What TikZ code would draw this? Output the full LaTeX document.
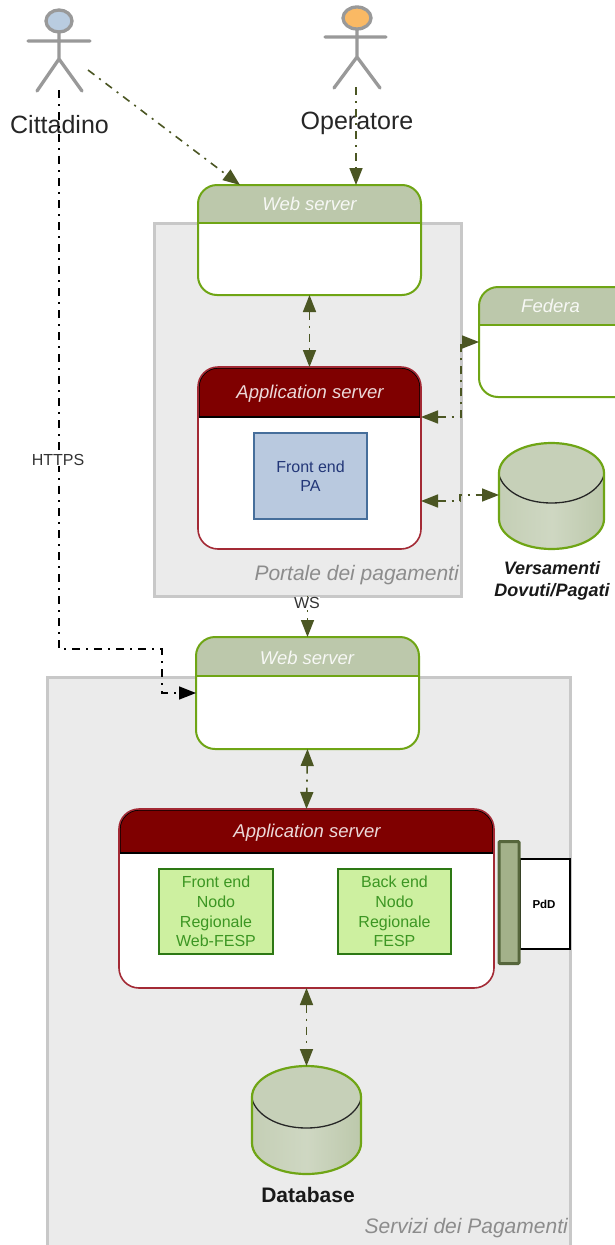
\documentclass[tikz,border=0pt]{standalone}
\usepackage{fontspec}
\setmainfont{Liberation Sans}
\usetikzlibrary{arrows.meta,calc}
\definecolor{panelgray}{HTML}{EBEBEB}
\definecolor{panelline}{HTML}{C8C8C8}
\definecolor{wsgreen}{HTML}{6FA515}
\definecolor{wshead}{HTML}{BCC8AB}
\definecolor{appred}{HTML}{7F0000}
\definecolor{appline}{HTML}{A32A35}
\definecolor{olivearrow}{HTML}{4B5623}
\definecolor{actorgray}{HTML}{999999}
\newcommand{\fsz}[1]{\fontsize{#1}{#1}\selectfont}
% cylinder: left x, right x, top-ellipse centre y, bottom-ellipse centre y, vertical radius
\newcommand{\dbcyl}[5]{%
  \pgfmathsetmacro{\cxm}{(#1+#2)/2}%
  \pgfmathsetmacro{\kx}{0.5523*(#2-#1)/2}%
  \pgfmathsetmacro{\ky}{0.5523*#5}%
  \pgfmathsetmacro{\ybot}{#4+#5}%
  \pgfmathsetmacro{\ytop}{#3-#5}%
  \pgfmathsetmacro{\yfront}{#3+#5}%
  \path[left color=wshead!88!white,right color=wshead,middle color=wshead!72!white]
    (#1,#3) -- (#1,#4) .. controls (#1,#4+\ky) and (\cxm-\kx,\ybot) .. (\cxm,\ybot)
    .. controls (\cxm+\kx,\ybot) and (#2,#4+\ky) .. (#2,#4) -- (#2,#3) -- cycle;
  \path[fill=wshead!85!white] (#1,#3) .. controls (#1,#3-\ky) and (\cxm-\kx,\ytop) .. (\cxm,\ytop)
    .. controls (\cxm+\kx,\ytop) and (#2,#3-\ky) .. (#2,#3)
    .. controls (#2,#3+\ky) and (\cxm+\kx,\yfront) .. (\cxm,\yfront)
    .. controls (\cxm-\kx,\yfront) and (#1,#3+\ky) .. (#1,#3) -- cycle;
  \draw[black!85,line width=1.3pt] (#1,#3+2) .. controls (#1+4,#3+\ky) and (\cxm-\kx,\yfront) .. (\cxm,\yfront)
    .. controls (\cxm+\kx,\yfront) and (#2-4,#3+\ky) .. (#2,#3+2);
  \draw[wsgreen,line width=2.2pt,line join=round] (#1,#3) -- (#1,#4) .. controls (#1,#4+\ky) and (\cxm-\kx,\ybot) .. (\cxm,\ybot)
    .. controls (\cxm+\kx,\ybot) and (#2,#4+\ky) .. (#2,#4) -- (#2,#3)
    .. controls (#2,#3-\ky) and (\cxm+\kx,\ytop) .. (\cxm,\ytop)
    .. controls (\cxm-\kx,\ytop) and (#1,#3-\ky) .. (#1,#3) -- cycle;
}
\tikzset{
  panel/.style={draw=panelline,fill=panelgray,line width=3pt,inner sep=0pt,outer sep=0pt},
  wsbox/.style={draw=wsgreen,fill=white,line width=2pt,rounded corners=19pt,inner sep=0pt,outer sep=0pt,
    path picture={\fill[wshead,sharp corners] ([xshift=-3pt,yshift=3pt]path picture bounding box.north west) rectangle ([xshift=3pt,yshift=-#1]path picture bounding box.north east);
      \draw[wsgreen,line width=1.8pt,sharp corners] ([xshift=-3pt,yshift=-#1]path picture bounding box.north west) -- ([xshift=3pt,yshift=-#1]path picture bounding box.north east);}},
  appbox/.style={draw=appline,fill=white,line width=1.6pt,rounded corners=20pt,inner sep=0pt,outer sep=0pt,
    path picture={\fill[appred,sharp corners] ([xshift=-3pt,yshift=3pt]path picture bounding box.north west) rectangle ([xshift=3pt,yshift=-#1]path picture bounding box.north east);
      \draw[black,line width=3.2pt] ([yshift=-#1]path picture bounding box.north west) -- (path picture bounding box.north west) -- (path picture bounding box.north east) -- ([yshift=-#1]path picture bounding box.north east);
      \draw[black,line width=1.5pt,sharp corners] ([xshift=-3pt,yshift=-#1]path picture bounding box.north west) -- ([xshift=3pt,yshift=-#1]path picture bounding box.north east);}},
  headtext/.style={font=\fsz{18.5}\itshape,inner sep=0pt,text=#1},
  greenbox/.style={line width=1.4pt,inner sep=0pt,outer sep=0pt,align=center,font=\fsz{16},
    fill={rgb,255:red,205;green,240;blue,160},draw={rgb,255:red,45;green,120;blue,20},text={rgb,255:red,60;green,150;blue,35}},
  paneltext/.style={font=\fsz{21}\itshape,text=black!45,inner sep=0pt},
  actorline/.style={draw=actorgray,line width=3.3pt,line cap=round},
  actorname/.style={font=\fsz{25},text=black!85,inner sep=0pt},
  flow/.style={draw=olivearrow,line width=1.6pt,dash pattern=on 8pt off 6pt on 2pt off 6pt,
    -{Triangle[length=17pt,width=13pt,fill=olivearrow]}},
  flowboth/.style={flow,{Triangle[length=17pt,width=13pt,fill=olivearrow]}-{Triangle[length=17pt,width=13pt,fill=olivearrow]}},
  blackflow/.style={draw=black,line width=1.6pt,dash pattern=on 8pt off 6pt on 2pt off 6pt,
    -{Triangle[length=17pt,width=13pt,fill=black]}},
  dbnode/.style={inner sep=0pt,outer sep=0pt},
  smalltext/.style={font=\fsz{16},text=black!80,inner sep=1pt},
}
\begin{document}
\begin{tikzpicture}[x=1pt,y=-1pt]
\clip (0,0) rectangle (615,1245);
\fill[white] (0,0) rectangle (615,1245);
% panels
\node[panel,minimum width=307pt,minimum height=373pt] (portale) at (307.5,409.5) {};
\node[panel,minimum width=523pt,minimum height=600pt] (servizi) at (308.5,977) {};
\node[paneltext,anchor=east] (portaletxt) at (459,575) {Portale dei pagamenti};
\node[paneltext,anchor=east] (servizitxt) at (568,1228.5) {Servizi dei Pagamenti};
% web servers
\node[wsbox=38pt,minimum width=223pt,minimum height=110pt] (web1) at (309.5,240) {};
\node[headtext=white!88!wshead] (web1t) at (309.5,204) {Web server};
\node[wsbox=39pt,minimum width=223pt,minimum height=112pt] (web2) at (307.5,693) {};
\node[headtext=white!88!wshead] (web2t) at (307,658) {Web server};
\node[wsbox=38pt,minimum width=160pt,minimum height=110pt] (federa) at (559,342) {};
\node[headtext=white!88!wshead] (federat) at (550.5,306) {Federa};
% application servers
\node[appbox=50pt,minimum width=223pt,minimum height=182pt] (app1) at (309.5,458) {};
\node[headtext=white!85!appred] (app1t) at (310,394) {Application server};
\node[draw={rgb,255:red,70;green,110;blue,155},fill={rgb,255:red,185;green,201;blue,223},line width=1.4pt,minimum width=113pt,minimum height=86pt,inner sep=0pt,outer sep=0pt,align=center,font=\fsz{16},text={rgb,255:red,35;green,55;blue,120}] (fepa) at (310.5,476) {Front end\\[3pt]PA};
\node[appbox=44pt,minimum width=375pt,minimum height=179pt] (app2) at (306.5,898.5) {};
\node[headtext=white!85!appred] (app2t) at (307,833) {Application server};
\node[greenbox,minimum width=114pt,minimum height=85pt] (fe) at (216,911.5) {Front end\\[3.8pt]Nodo\\[3.8pt]Regionale\\[3.8pt]Web-FESP};
\node[greenbox,minimum width=113pt,minimum height=85pt] (be) at (394.5,911.5) {Back end\\[3.8pt]Nodo\\[3.8pt]Regionale\\[3.8pt]FESP};
% PdD
\node[draw=black,fill=white,line width=1.4pt,minimum width=50pt,minimum height=90pt,inner sep=0pt,outer sep=0pt] (pdd) at (545,904) {};
\node[font=\fsz{11.5}\bfseries,inner sep=0pt] (pddt) at (544,904) {PdD};
\node[draw={rgb,255:red,86;green,102;blue,60},fill={rgb,255:red,163;green,177;blue,138},line width=3pt,minimum width=20pt,minimum height=122pt,inner sep=0pt,outer sep=0pt,rounded corners=1pt] (port) at (509,902.5) {};
% databases
\node[dbnode,minimum width=105pt,minimum height=106pt] (db1) at (551.5,496) {};
\dbcyl{499}{604}{473}{519}{30}
\node[font=\fsz{18}\bfseries\itshape,align=center,inner sep=0pt,text=black!90] (db1t) at (552,581) {Versamenti\\[3.5pt]Dovuti/Pagati};
\node[dbnode,minimum width=109pt,minimum height=108pt] (db2) at (306.5,1120) {};
\dbcyl{252}{361}{1097}{1143}{31}
\node[font=\fsz{21}\bfseries,inner sep=0pt,text=black!90] (db2t) at (308,1195) {Database};
% actors
\draw[actorline,fill={rgb,255:red,185;green,204;blue,224}] (59,21) ellipse[x radius=13pt,y radius=11pt];
\draw[actorline] (28,41) -- (90,41) (59,32) -- (59,59) (37,91) -- (59,59) -- (82,91);
\node[actorname] (cittadino) at (59.5,125) {Cittadino};
\draw[actorline,fill={rgb,255:red,250;green,185;blue,100}] (357,18) ellipse[x radius=14pt,y radius=11pt];
\draw[actorline] (325,37) -- (386,37) (357,29) -- (357,57) (334,88) -- (357,57) -- (380,88);
\node[actorname] (operatore) at (357,123) {Operatore};
% free ends
\coordinate (citA) at (88,70);
\coordinate (citB) at (59,90);
\coordinate (citC) at (59,649);
\coordinate (citD) at (162,649);
\coordinate (opA) at (356,87);
\coordinate (citTop) at (240,184.5);
\coordinate (fedMid) at (461,342);
\coordinate (fedLow) at (461,417);
\coordinate (dbMidA) at (460,501);
\coordinate (dbMidB) at (460,495);
% connectors
\draw[flow] (citA) -- (citTop |- web1.north);
\draw[flow] (opA) -- (opA |- web1.north);
\draw[flowboth] (web1.south) -- (app1.north);
\draw[flowboth] (fedLow -| app1.east) -- (fedLow) -- (fedMid) -- (fedMid -| federa.west);
\draw[flowboth] (dbMidA -| app1.east) -- (dbMidA) -- (dbMidB) -- (db1.west |- dbMidB);
\draw[flow] (web2.north |- portale.south) -- (web2.north);
\draw[flowboth] (web2.south) -- (app2.north);
\draw[flowboth] (app2.south) -- (db2.north);
\draw[blackflow] (citB) -- (citC) -- (citD) -- (citD |- web2.west) -- (web2.west);
% labels on connectors
\node[smalltext,fill=white,inner sep=0.5pt] (ws) at (307,603) {WS};
\node[smalltext,fill=white,inner sep=0.5pt] (https) at (58,460) {HTTPS};
\end{tikzpicture}
\end{document}
